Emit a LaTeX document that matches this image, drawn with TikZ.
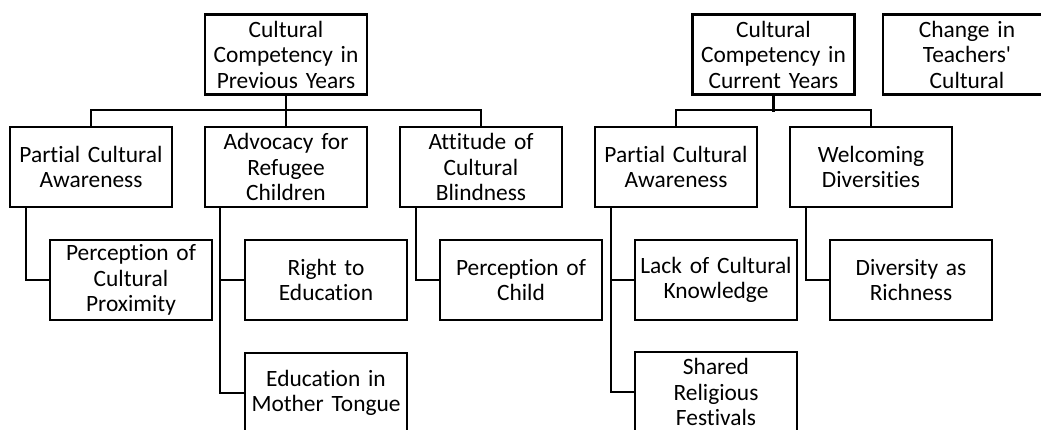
\documentclass[tikz,border=0pt]{standalone}
\usepackage{fontspec}
\setmainfont{Carlito}[Ligatures={NoCommon}]
\begin{document}
\begin{tikzpicture}[x=1pt,y=-1pt,
  box/.style={draw,line width=2.2pt,minimum width=162pt,minimum height=80pt,
    text width=160pt,align=center,inner sep=0pt,
    font=\fontsize{23.4pt}{25.5pt}\selectfont},
  link/.style={line width=2.2pt}]
\useasboundingbox (0,0) rectangle (1041,430);
% roots
\node[box] (r1) at (286,54.5) {Cultural\\Competency in\\Previous Years};
\node[box] (r2) at (773.5,54.5) {Cultural\\Competency in\\Current Years};
\node[box,minimum width=152pt] (r3) at (963,54.5) {\hspace*{8pt}Change in\\\hspace*{8pt}Teachers\textquotesingle\\\hspace*{8pt}Cultural};
% level 1
\node[box] (pca1) at (91,167) {Partial Cultural\\Awareness};
\node[box] (adv) at (286,167) {Advocacy for\\Refugee\\Children};
\node[box] (att) at (481,167) {Attitude of\\Cultural\\Blindness};
\node[box] (pca2) at (676,167) {Partial Cultural\\Awareness};
\node[box] (wel) at (871,167) {Welcoming\\Diversities};
% level 2
\node[box] (pcp) at (131,280) {Perception of\\Cultural\\Proximity};
\node[box] (rte) at (326,280) {Right to\\Education};
\node[box] (poc) at (521,280) {Perception of\\Child};
\node[box] (lck) at (716,280) {Lack of Cultural\\Knowledge};
\node[box] (div) at (911,280) {Diversity as\\Richness};
% level 3
\node[box] (emt) at (326,393) {Education in\\Mother Tongue};
\node[box] (srf) at (716,392) {Shared\\Religious\\Festivals};
% tree connectors
\draw[link] (pca1.north) -- ++(0,-16) -| (att.north);
\draw[link] (r1.south) -- (adv.north);
\draw[link] (pca2.north) -- ++(0,-16) -| (wel.north);
\draw[link] (r2.south) -- ++(0,16.5);
% side connectors
\draw[link] ([xshift=17pt]pca1.south west) |- (pcp.west);
\draw[link] ([xshift=16pt]adv.south west) |- (emt.west);
\draw[link] ([xshift=16pt]adv.south west |- rte.west) -- (rte.west);
\draw[link] ([xshift=17pt]att.south west) |- (poc.west);
\draw[link] ([xshift=17pt]pca2.south west) |- (srf.west);
\draw[link] ([xshift=17pt]pca2.south west |- lck.west) -- (lck.west);
\draw[link] ([xshift=17pt]wel.south west) |- (div.west);
\end{tikzpicture}
\end{document}
